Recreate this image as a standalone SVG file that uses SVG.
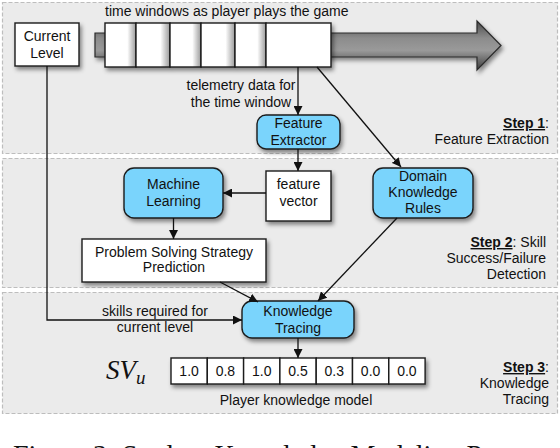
<svg xmlns="http://www.w3.org/2000/svg" width="560" height="448" viewBox="0 0 560 448">
<defs>
<style>
.panel{fill:#ebebeb;stroke:#bdbdbd;stroke-width:1.2;stroke-dasharray:4 2}
.box{fill:#fff;stroke:#1a1a1a;stroke-width:1.4}
.rbox{fill:#7ad4fc;stroke:#1a1a1a;stroke-width:1.4}
.t{font-family:"Liberation Sans",Arial,sans-serif;font-size:14px;fill:#111}
.m{text-anchor:middle}
.e{text-anchor:end}
.b{font-weight:bold;text-decoration:underline}
.ln{fill:none;stroke:#111;stroke-width:1.3;marker-end:url(#ah)}
.cell{fill:url(#cg);stroke:#1a1a1a;stroke-width:1.4}
</style>
<marker id="ah" viewBox="0 0 10 10" refX="10" refY="5" markerWidth="9" markerHeight="9" markerUnits="userSpaceOnUse" orient="auto">
<path d="M0,0 L10,5 L0,10 z" fill="#111"/>
</marker>
<filter id="sh" x="-20%" y="-20%" width="150%" height="160%">
<feDropShadow dx="2" dy="3" stdDeviation="2" flood-color="#000" flood-opacity="0.45"/>
</filter>
<linearGradient id="cg" x1="0" y1="0" x2="1" y2="0">
<stop offset="0" stop-color="#fff"/>
<stop offset="0.72" stop-color="#fff"/>
<stop offset="1" stop-color="#9a9a9a"/>
</linearGradient>
<linearGradient id="ag" x1="0" y1="0" x2="0" y2="1">
<stop offset="0" stop-color="#4a4a4a"/>
<stop offset="0.35" stop-color="#8c8c8c"/>
<stop offset="0.6" stop-color="#9a9a9a"/>
<stop offset="1" stop-color="#3c3c3c"/>
</linearGradient>
</defs>
<rect width="560" height="448" fill="#fff"/>
<g id="panels">
<rect class="panel" x="2.5" y="2.5" width="555" height="151"/>
<rect class="panel" x="2.5" y="158.5" width="555" height="129"/>
<rect class="panel" x="2.5" y="292.5" width="555" height="121"/>
</g>
<g id="timeline">
<polygon points="95,33 477,33 477,21 501,45.5 477,70 477,57 95,57" fill="url(#ag)" stroke="#2a2a2a" stroke-width="1.2" filter="url(#sh)"/>
<g filter="url(#sh)">
<rect class="cell" x="105" y="23" width="31" height="44"/>
<rect class="cell" x="136" y="23" width="34" height="44"/>
<rect class="cell" x="170" y="23" width="31" height="44"/>
<rect class="cell" x="201" y="23" width="34" height="44"/>
<rect class="cell" x="235" y="23" width="31" height="44"/>
<rect class="box" x="266" y="23" width="65" height="44"/>
</g>
<text class="t" x="105" y="16">time windows as player plays the game</text>
</g>
<g id="current-level">
<rect class="box" x="15" y="23" width="64" height="43" filter="url(#sh)"/>
<text class="t m" x="47" y="41">Current</text>
<text class="t m" x="47" y="58">Level</text>
</g>
<g id="feature-extractor">
<rect class="rbox" x="257" y="115" width="83" height="34" rx="9" filter="url(#sh)"/>
<text class="t m" x="298.5" y="128">Feature</text>
<text class="t m" x="298.5" y="145">Extractor</text>
</g>
<g id="feature-vector">
<rect class="box" x="266" y="171" width="65" height="50" filter="url(#sh)"/>
<text class="t m" x="298.5" y="189">feature</text>
<text class="t m" x="298.5" y="206">vector</text>
</g>
<g id="machine-learning">
<rect class="rbox" x="124" y="168" width="99" height="50" rx="10" filter="url(#sh)"/>
<text class="t m" x="173.5" y="189">Machine</text>
<text class="t m" x="173.5" y="206">Learning</text>
</g>
<g id="pssp">
<rect class="box" x="82" y="239" width="184" height="43" filter="url(#sh)"/>
<text class="t m" x="174" y="257">Problem Solving Strategy</text>
<text class="t m" x="174" y="272">Prediction</text>
</g>
<g id="domain-rules">
<rect class="rbox" x="373" y="168" width="100" height="50" rx="10" filter="url(#sh)"/>
<text class="t m" x="423" y="181">Domain</text>
<text class="t m" x="423" y="197">Knowledge</text>
<text class="t m" x="423" y="213">Rules</text>
</g>
<g id="knowledge-tracing">
<rect class="rbox" x="242" y="301" width="112" height="37" rx="10" filter="url(#sh)"/>
<text class="t m" x="298" y="316">Knowledge</text>
<text class="t m" x="298" y="333">Tracing</text>
</g>
<g id="skill-vector">
<g filter="url(#sh)">
<rect class="box" x="171" y="358" width="36.3" height="26"/>
<rect class="box" x="207.3" y="358" width="36.3" height="26"/>
<rect class="box" x="243.6" y="358" width="36.3" height="26"/>
<rect class="box" x="279.9" y="358" width="36.3" height="26"/>
<rect class="box" x="316.2" y="358" width="36.3" height="26"/>
<rect class="box" x="352.5" y="358" width="36.3" height="26"/>
<rect class="box" x="388.8" y="358" width="36.3" height="26"/>
</g>
<text class="t m" x="189.1" y="376">1.0</text>
<text class="t m" x="225.4" y="376">0.8</text>
<text class="t m" x="261.7" y="376">1.0</text>
<text class="t m" x="298" y="376">0.5</text>
<text class="t m" x="334.3" y="376">0.3</text>
<text class="t m" x="370.6" y="376">0.0</text>
<text class="t m" x="406.9" y="376">0.0</text>
<text x="106" y="379" font-family="'Liberation Serif','Times New Roman',serif" font-style="italic" font-size="27" fill="#111">SV<tspan font-size="19" dy="5">u</tspan></text>
<text class="t m" x="296" y="405">Player knowledge model</text>
</g>
<g id="connectors">
<path class="ln" d="M298,67 V115"/>
<path class="ln" d="M298,149 V171"/>
<path class="ln" d="M266,193 H223"/>
<path class="ln" d="M173.5,218 V239"/>
<path class="ln" d="M220,282 L258,302"/>
<path class="ln" d="M317,67 L401,167"/>
<path class="ln" d="M397,218 L318,301"/>
<path class="ln" d="M47,66 V320 H242"/>
<path class="ln" d="M298,338 V358"/>
</g>
<g id="labels">
<text class="t m" x="241" y="90">telemetry data for</text>
<text class="t m" x="241" y="107">the time window</text>
<text class="t m" x="155" y="316">skills required for</text>
<text class="t m" x="155" y="332">current level</text>
<text class="t e" x="549" y="128"><tspan class="b">Step 1</tspan>:</text>
<text class="t e" x="549" y="144">Feature Extraction</text>
<text class="t e" x="546" y="247"><tspan class="b">Step 2</tspan>: Skill</text>
<text class="t e" x="546" y="263">Success/Failure</text>
<text class="t e" x="546" y="279">Detection</text>
<text class="t e" x="549" y="372"><tspan class="b">Step 3</tspan>:</text>
<text class="t e" x="549" y="388">Knowledge</text>
<text class="t e" x="549" y="404">Tracing</text>
</g>
<text x="13" y="464" font-family="'Liberation Serif','Times New Roman',serif" font-size="28" fill="#111">Figure 3: Student Knowledge Modeling Process</text>
</svg>
